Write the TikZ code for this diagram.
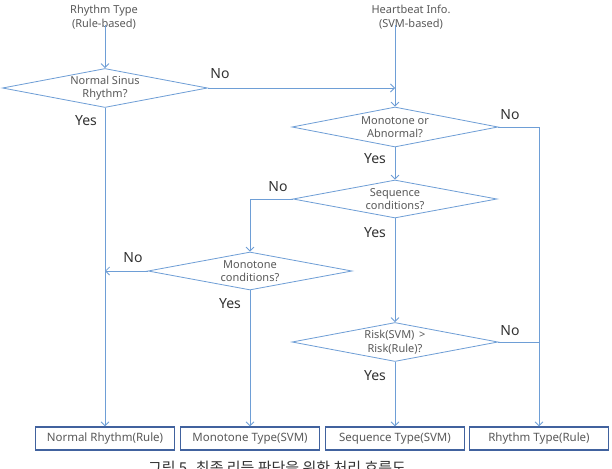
\documentclass[tikz,border=0pt]{standalone}
\usepackage{fontspec}
\setmainfont{Noto Sans}
\newfontfamily\krfont{Noto Sans CJK KR}
\usetikzlibrary{shapes.geometric,arrows.meta}
\definecolor{lineblue}{HTML}{6E9ED6}
\definecolor{boxblue}{HTML}{41629E}
\definecolor{txtgray}{HTML}{5A5A5A}
\definecolor{lblgray}{HTML}{333333}
\tikzset{
  flow/.style={draw=lineblue, line width=0.8pt},
  arr/.style={flow, -{Straight Barb[length=4pt,width=8pt]}},
  dec/.style={draw=lineblue, line width=0.8pt, diamond, inner sep=0pt,
    minimum width=206pt, minimum height=40pt},
  dtxt/.style={text=txtgray, font=\fontsize{11}{13.5}\selectfont, align=center, inner sep=0pt},
  intxt/.style={text=txtgray, font=\fontsize{11}{14}\selectfont, align=center, inner sep=0pt},
  outbox/.style={draw=boxblue, line width=1.3pt, minimum width=139pt, minimum height=23pt,
    inner sep=0pt, text=txtgray, font=\fontsize{11.5}{13}\selectfont},
  yn/.style={text=lblgray, font=\fontsize{14}{16}\selectfont, inner sep=0pt}
}
\begin{document}
\begin{tikzpicture}[x=1pt,y=-1pt]
\useasboundingbox (0,0) rectangle (612,468);
\fill[white] (0,0) rectangle (612,468);

% inputs
\node[intxt] (t1) at (104,17) {Rhythm Type\\(Rule-based)};
\node[intxt] (t2) at (411,17) {Heartbeat Info.\\(SVM-based)};

% decisions
\node[dec, minimum width=205pt, minimum height=39pt,
  label={[dtxt]center:Normal Sinus\\Rhythm?}] (d1) at (105,88) {};
\node[dec, label={[dtxt]center:Monotone or\\Abnormal?}] (d2) at (395,127) {};
\node[dec, minimum width=204pt, minimum height=38pt,
  label={[dtxt]center:Sequence\\conditions?}] (d3) at (395,199) {};
\node[dec, minimum width=204pt, minimum height=38pt,
  label={[dtxt]center:Monotone\\conditions?}] (d4) at (250,271) {};
\node[dec, minimum height=39pt,
  label={[dtxt]center:Risk(SVM) \,>\\Risk(Rule)?}] (d5) at (395,342) {};

% outputs
\node[outbox] (b1) at (105,438.5) {Normal Rhythm(Rule)};
\node[outbox] (b2) at (250,438.5) {Monotone Type(SVM)};
\node[outbox] (b3) at (395,438.5) {Sequence Type(SVM)};
\node[outbox] (b4) at (539,438.5) {Rhythm Type(Rule)};

% connectors
\draw[arr] ([yshift=4pt]t1.south -| d1.north) -- (d1.north);
\draw[arr] ([yshift=4pt]t2.south -| d2.north) -- (d2.north);
\draw[arr] (d1.east) -- (d1.east -| d2.north);
\draw[arr] (d1.south) -- (b1.north);
\draw[arr] (d2.east) -| (b4.north);
\draw[arr] (d2.south) -- (d3.north);
\draw[arr] (d3.west) -| (d4.north);
\draw[arr] (d3.south) -- (d5.north);
\draw[arr] (d4.west) -- (d4.west -| d1.south);
\draw[arr] (d4.south) -- (b2.north);
\draw[flow] (d5.east) -- (d5.east -| b4.north);
\draw[arr] (d5.south) -- (b3.north);

% branch labels
\node[yn] (n1) at (220,74) {No};
\node[yn] (y1) at (86,121) {Yes};
\node[yn] (n2) at (510,115) {No};
\node[yn] (y2) at (375,159) {Yes};
\node[yn] (n3) at (278,187) {No};
\node[yn] (y3) at (375,233) {Yes};
\node[yn] (n4) at (133,258) {No};
\node[yn] (y4) at (230,304) {Yes};
\node[yn] (n5) at (510,331) {No};
\node[yn] (y5) at (375,376) {Yes};

% caption (cut off at the bottom edge, as in the reference)
\node[anchor=north, inner sep=0pt, text=lblgray, font=\krfont\fontsize{15}{17}\selectfont] (cap) at (277,461) {그림 5.  최종 리듬 판단을 위한 처리 흐름도};
\end{tikzpicture}
\end{document}
